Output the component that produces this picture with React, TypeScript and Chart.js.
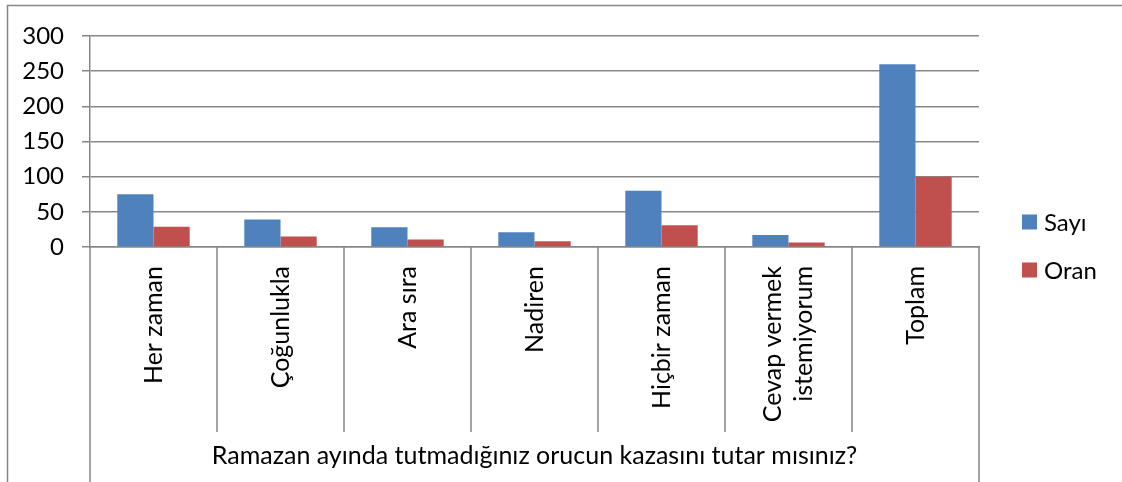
import React, { useEffect, useRef } from "react";
import { Chart, registerables } from "chart.js";

Chart.register(...registerables);

const categories: (string | string[])[] = [
  "Her zaman",
  "Çoğunlukla",
  "Ara sıra",
  "Nadiren",
  "Hiçbir zaman",
  ["Cevap vermek", "istemiyorum"],
  "Toplam",
];
const sayiValues = [75, 39, 28, 21, 80, 17, 260];
const oranValues = [28.8, 15, 10.8, 8.1, 30.8, 6.5, 100];
const seriesNames = ["Sayı", "Oran"];
const seriesColors = ["#4F81BD", "#C0504D"];
const yMin = 0;
const yMax = 300;
const yStep = 50;
const groupTitle = "Ramazan ayında tutmadığınız orucun kazasını tutar mısınız?";

const FONT = "Lato";
const FONT_SIZE = 25;
const LEGEND_FONT_SIZE = 24;
const LABEL_LINE_HEIGHT = 1.25;
const GRID = "#878787";

const decorPlugin = {
  id: "decor",
  beforeDraw(chart: any) {
    const ctx = chart.ctx;
    ctx.save();
    ctx.strokeStyle = GRID;
    ctx.lineWidth = 1.5;
    ctx.strokeRect(7.5, 5.5, chart.width + 50, chart.height + 50);
    ctx.restore();
    // center multi-line rotated category labels on their category
    const xs = chart.scales.x;
    const items = xs.getLabelItems(chart.chartArea);
    const lh = FONT_SIZE * LABEL_LINE_HEIGHT;
    items.forEach((it: any) => {
      if (Array.isArray(it.label) && it.label.length > 1 && !it.__shifted) {
        it.options.translation[0] -= ((it.label.length - 1) * lh) / 2;
        it.__shifted = true;
      }
    });
  },
  afterDraw(chart: any) {
    const ctx = chart.ctx;
    const xs = chart.scales.x;
    const ys = chart.scales.y;
    const n = xs.ticks.length;
    const step = (xs.right - xs.left) / n;
    const sepBottom = ys.bottom + 185;
    ctx.save();
    ctx.strokeStyle = GRID;
    ctx.lineWidth = 1.5;
    ctx.beginPath();
    for (let i = 0; i <= n; i++) {
      const px = Math.round(xs.left + i * step);
      const bottom = i === 0 || i === n ? chart.height : sepBottom;
      ctx.moveTo(px, ys.bottom);
      ctx.lineTo(px, bottom);
    }
    ctx.stroke();

    // legend
    const lx = xs.right + 43;
    const cy = chart.height / 2 + 5;
    const gap = 48;
    ctx.font = `${LEGEND_FONT_SIZE}px ${FONT}`;
    ctx.textBaseline = "middle";
    ctx.textAlign = "left";
    chart.data.datasets.forEach((ds: any, i: number) => {
      const y = cy - gap / 2 + i * gap;
      ctx.fillStyle = ds.backgroundColor;
      ctx.fillRect(lx, y - 7.5, 15, 15);
      ctx.fillStyle = "#000";
      ctx.fillText(ds.label, lx + 22, y + 1);
    });
    ctx.restore();
  },
};

export default function App() {
  const ref = useRef<HTMLCanvasElement | null>(null);
  useEffect(() => {
    if (!ref.current) return;
    const chart = new Chart(ref.current, {
      type: "bar",
      data: {
        labels: categories as any,
        datasets: [
          { label: seriesNames[0], data: sayiValues, backgroundColor: seriesColors[0] },
          { label: seriesNames[1], data: oranValues, backgroundColor: seriesColors[1] },
        ],
      },
      options: {
        animation: false,
        responsive: false,
        maintainAspectRatio: false,
        layout: { padding: { top: 36, right: 143, left: 0, bottom: 0 } },
        datasets: { bar: { categoryPercentage: 0.57, barPercentage: 1 } } as any,
        plugins: {
          legend: { display: false },
          tooltip: { enabled: false },
        },
        scales: {
          x: {
            afterFit(scale: any) {
              scale.height = 235;
            },
            grid: { display: false, drawTicks: false },
            border: { display: true, color: GRID, width: 1.5 },
            ticks: {
              autoSkip: false,
              minRotation: 90,
              maxRotation: 90,
              padding: 19,
              color: "#000",
              font: { family: FONT, size: FONT_SIZE, lineHeight: LABEL_LINE_HEIGHT },
            },
            title: {
              display: true,
              text: groupTitle,
              color: "#000",
              font: { family: FONT, size: FONT_SIZE, lineHeight: 1 },
              padding: { top: 0, bottom: 14 },
            },
          },
          y: {
            min: yMin,
            max: yMax,
            afterFit(scale: any) {
              scale.width = 90;
            },
            grid: { color: GRID, lineWidth: 1.5, tickLength: 8, drawTicks: true },
            border: { display: true, color: GRID, width: 1.5 },
            ticks: {
              stepSize: yStep,
              padding: 18,
              color: "#000",
              font: { family: FONT, size: 24 },
            },
          },
        },
      },
      plugins: [decorPlugin],
    });
    return () => chart.destroy();
  }, []);
  return (
    <div style={{ position: "fixed", left: 0, top: 0, width: 1122, height: 482, background: "#fff" }}>
      <canvas ref={ref} width={1122} height={482} style={{ display: "block" }} />
    </div>
  );
}
